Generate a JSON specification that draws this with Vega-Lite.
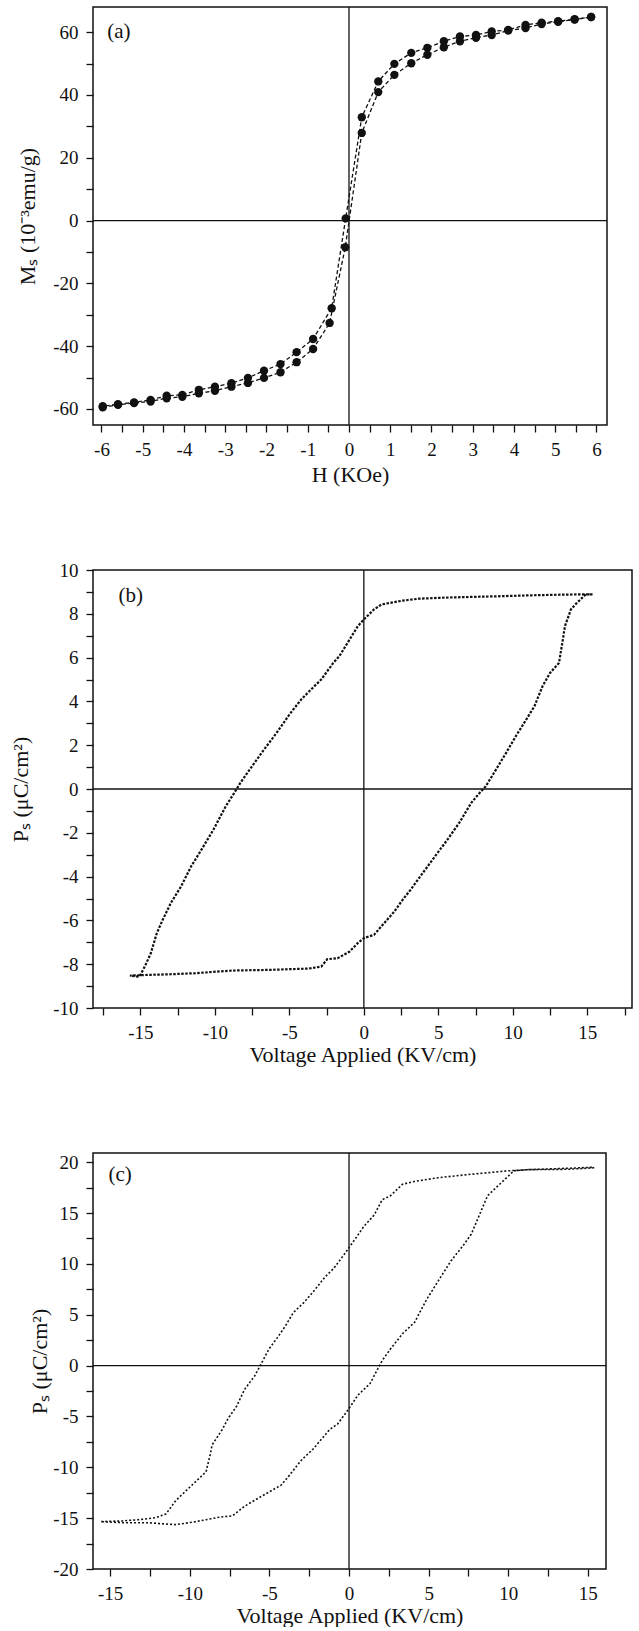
{
  "$schema": "https://vega.github.io/schema/vega-lite/v6.json",
  "padding": {"left": 8, "top": 5, "right": 0, "bottom": 0},
  "bounds": "flush",
  "spacing": 145,
  "background": "white",
  "config": {
    "view": {"stroke": "#111", "strokeWidth": 1.5},
    "font": "Liberation Serif",
    "axis": {
      "domain": false, "grid": false, "tickColor": "#111", "tickSize": 7, "tickWidth": 1.3, "tickCount": 100,
      "labelFont": "Liberation Serif", "labelFontSize": 19, "labelColor": "#111", "labelPadding": 8,
      "labelOverlap": false, "labelFlush": false,
      "titleFont": "Liberation Serif", "titleFontSize": 22, "titleFontWeight": "normal", "titleColor": "#111"
    }
  },
  "vconcat": [
    {
      "width": 514, "height": 418,
      "layer": [
        {
          "data": {"values": [{"H": 0}]},
          "mark": {"type": "rule", "color": "#111", "strokeWidth": 1.3},
          "encoding": {"x": {"field": "H", "type": "quantitative", "title": "H (KOe)", "scale": {"domain": [-6.206, 6.255], "nice": false, "zero": false}}}
        },
        {
          "data": {"values": [{"M": 0}]},
          "mark": {"type": "rule", "color": "#111", "strokeWidth": 1.3},
          "encoding": {"y": {"field": "M", "type": "quantitative", "title": "Mₛ (10⁻³emu/g)", "scale": {"domain": [-65.1, 68], "nice": false, "zero": false}}}
        },
        {
          "data": {"name": "ms"},
          "mark": {"type": "line", "color": "#111", "strokeWidth": 1.3, "strokeDash": [4, 2.5]},
          "encoding": {
            "x": {"field": "H", "type": "quantitative", "title": "H (KOe)", "scale": {"domain": [-6.206, 6.255], "nice": false, "zero": false},
              "axis": {"tickCount": 100, "values": [-6,-5.5,-5,-4.5,-4,-3.5,-3,-2.5,-2,-1.5,-1,-0.5,0,0.5,1,1.5,2,2.5,3,3.5,4,4.5,5,5.5,6], "labelExpr": "datum.value % 1 === 0 ? '' + datum.value : ''", "titlePadding": 5}},
            "y": {"field": "M", "type": "quantitative", "title": "Mₛ (10⁻³emu/g)", "scale": {"domain": [-65.1, 68], "nice": false, "zero": false},
              "axis": {"tickCount": 100, "values": [-60,-50,-40,-30,-20,-10,0,10,20,30,40,50,60], "labelExpr": "datum.value % 20 === 0 ? '' + datum.value : ''", "titlePadding": 13}},
            "detail": {"field": "branch"},
            "order": {"field": "i", "type": "quantitative"}
          }
        },
        {
          "data": {"name": "ms"},
          "mark": {"type": "point", "shape": "circle", "filled": true, "color": "#111", "opacity": 1, "size": 70},
          "encoding": {
            "x": {"field": "H", "type": "quantitative", "title": "H (KOe)", "scale": {"domain": [-6.206, 6.255], "nice": false, "zero": false}},
            "y": {"field": "M", "type": "quantitative", "title": "Mₛ (10⁻³emu/g)", "scale": {"domain": [-65.1, 68], "nice": false, "zero": false}}
          }
        },
        {
          "data": {"values": [{"H": -5.58, "M": 60, "label": "(a)"}]},
          "mark": {"type": "text", "font": "Liberation Serif", "fontSize": 21, "color": "#111"},
          "encoding": {
            "x": {"field": "H", "type": "quantitative", "title": "H (KOe)", "scale": {"domain": [-6.206, 6.255], "nice": false, "zero": false}},
            "y": {"field": "M", "type": "quantitative", "title": "Mₛ (10⁻³emu/g)", "scale": {"domain": [-65.1, 68], "nice": false, "zero": false}},
            "text": {"field": "label"}
          }
        }
      ]
    },
    {
      "width": 539, "height": 438,
      "layer": [
        {
          "data": {"values": [{"E": 0}]},
          "mark": {"type": "rule", "color": "#111", "strokeWidth": 1.3},
          "encoding": {"x": {"field": "E", "type": "quantitative", "title": "Voltage Applied (KV/cm)", "scale": {"domain": [-18.18, 18.0], "nice": false, "zero": false}}}
        },
        {
          "data": {"values": [{"P": 0}]},
          "mark": {"type": "rule", "color": "#111", "strokeWidth": 1.3},
          "encoding": {"y": {"field": "P", "type": "quantitative", "title": "Pₛ (μC/cm²)", "scale": {"domain": [-10, 10], "nice": false, "zero": false}}}
        },
        {
          "data": {"name": "pb"},
          "mark": {"type": "line", "color": "#111", "strokeWidth": 2.2, "strokeDash": [2.5, 1.5]},
          "encoding": {
            "x": {"field": "E", "type": "quantitative", "title": "Voltage Applied (KV/cm)", "scale": {"domain": [-18.18, 18.0], "nice": false, "zero": false},
              "axis": {"tickCount": 100, "values": [-17.5,-15,-12.5,-10,-7.5,-5,-2.5,0,2.5,5,7.5,10,12.5,15,17.5], "labelExpr": "datum.value % 5 === 0 ? '' + datum.value : ''", "titlePadding": 2}},
            "y": {"field": "P", "type": "quantitative", "title": "Pₛ (μC/cm²)", "scale": {"domain": [-10, 10], "nice": false, "zero": false},
              "axis": {"tickCount": 100, "values": [-10,-9,-8,-7,-6,-5,-4,-3,-2,-1,0,1,2,3,4,5,6,7,8,9,10], "labelExpr": "datum.value % 2 === 0 ? '' + datum.value : ''", "titlePadding": 20}},
            "order": {"field": "i", "type": "quantitative"}
          }
        },
        {
          "data": {"values": [{"E": -15.65, "P": 8.83, "label": "(b)"}]},
          "mark": {"type": "text", "font": "Liberation Serif", "fontSize": 21, "color": "#111"},
          "encoding": {
            "x": {"field": "E", "type": "quantitative", "title": "Voltage Applied (KV/cm)", "scale": {"domain": [-18.18, 18.0], "nice": false, "zero": false}},
            "y": {"field": "P", "type": "quantitative", "title": "Pₛ (μC/cm²)", "scale": {"domain": [-10, 10], "nice": false, "zero": false}},
            "text": {"field": "label"}
          }
        }
      ]
    },
    {
      "width": 513, "height": 416,
      "layer": [
        {
          "data": {"values": [{"E": 0}]},
          "mark": {"type": "rule", "color": "#111", "strokeWidth": 1.3},
          "encoding": {"x": {"field": "E", "type": "quantitative", "title": "Voltage Applied (KV/cm)", "scale": {"domain": [-16.08, 16.14], "nice": false, "zero": false}}}
        },
        {
          "data": {"values": [{"P": 0}]},
          "mark": {"type": "rule", "color": "#111", "strokeWidth": 1.3},
          "encoding": {"y": {"field": "P", "type": "quantitative", "title": "Pₛ (μC/cm²)", "scale": {"domain": [-20, 20.9], "nice": false, "zero": false}}}
        },
        {
          "data": {"name": "pc"},
          "mark": {"type": "line", "color": "#111", "strokeWidth": 1.6, "strokeDash": [2, 2]},
          "encoding": {
            "x": {"field": "E", "type": "quantitative", "title": "Voltage Applied (KV/cm)", "scale": {"domain": [-16.08, 16.14], "nice": false, "zero": false},
              "axis": {"tickCount": 100, "values": [-15,-12.5,-10,-7.5,-5,-2.5,0,2.5,5,7.5,10,12.5,15], "labelExpr": "datum.value % 5 === 0 ? '' + datum.value : ''", "titlePadding": 2}},
            "y": {"field": "P", "type": "quantitative", "title": "Pₛ (μC/cm²)", "scale": {"domain": [-20, 20.9], "nice": false, "zero": false},
              "axis": {"tickCount": 100, "values": [-20,-17.5,-15,-12.5,-10,-7.5,-5,-2.5,0,2.5,5,7.5,10,12.5,15,17.5,20], "labelExpr": "datum.value % 5 === 0 ? '' + datum.value : ''", "titlePadding": 1}},
            "order": {"field": "i", "type": "quantitative"}
          }
        },
        {
          "data": {"values": [{"E": -14.38, "P": 18.7, "label": "(c)"}]},
          "mark": {"type": "text", "font": "Liberation Serif", "fontSize": 21, "color": "#111"},
          "encoding": {
            "x": {"field": "E", "type": "quantitative", "title": "Voltage Applied (KV/cm)", "scale": {"domain": [-16.08, 16.14], "nice": false, "zero": false}},
            "y": {"field": "P", "type": "quantitative", "title": "Pₛ (μC/cm²)", "scale": {"domain": [-20, 20.9], "nice": false, "zero": false}},
            "text": {"field": "label"}
          }
        }
      ]
    }
  ],
  "datasets": {
    "ms": [
      {"branch": "down", "i": 0, "H": 5.87, "M": 64.8},
      {"branch": "down", "i": 1, "H": 5.47, "M": 64.1},
      {"branch": "down", "i": 2, "H": 5.07, "M": 63.5},
      {"branch": "down", "i": 3, "H": 4.67, "M": 63.0},
      {"branch": "down", "i": 4, "H": 4.28, "M": 62.3},
      {"branch": "down", "i": 5, "H": 3.86, "M": 60.7},
      {"branch": "down", "i": 6, "H": 3.46, "M": 60.2},
      {"branch": "down", "i": 7, "H": 3.08, "M": 59.1},
      {"branch": "down", "i": 8, "H": 2.69, "M": 58.6},
      {"branch": "down", "i": 9, "H": 2.30, "M": 57.1},
      {"branch": "down", "i": 10, "H": 1.90, "M": 55.0},
      {"branch": "down", "i": 11, "H": 1.51, "M": 53.4},
      {"branch": "down", "i": 12, "H": 1.10, "M": 49.9},
      {"branch": "down", "i": 13, "H": 0.71, "M": 44.3},
      {"branch": "down", "i": 14, "H": 0.31, "M": 32.9},
      {"branch": "down", "i": 15, "H": -0.08, "M": 0.7},
      {"branch": "down", "i": 16, "H": -0.42, "M": -27.9},
      {"branch": "down", "i": 17, "H": -0.87, "M": -37.7},
      {"branch": "down", "i": 18, "H": -1.27, "M": -41.9},
      {"branch": "down", "i": 19, "H": -1.66, "M": -45.7},
      {"branch": "down", "i": 20, "H": -2.06, "M": -47.8},
      {"branch": "down", "i": 21, "H": -2.45, "M": -50.1},
      {"branch": "down", "i": 22, "H": -2.85, "M": -51.8},
      {"branch": "down", "i": 23, "H": -3.25, "M": -52.9},
      {"branch": "down", "i": 24, "H": -3.64, "M": -53.9},
      {"branch": "down", "i": 25, "H": -4.04, "M": -55.5},
      {"branch": "down", "i": 26, "H": -4.42, "M": -55.8},
      {"branch": "down", "i": 27, "H": -4.81, "M": -57.1},
      {"branch": "down", "i": 28, "H": -5.21, "M": -57.9},
      {"branch": "down", "i": 29, "H": -5.60, "M": -58.5},
      {"branch": "down", "i": 30, "H": -5.97, "M": -59.1},
      {"branch": "up", "i": 0, "H": -5.97, "M": -59.5},
      {"branch": "up", "i": 1, "H": -5.60, "M": -58.7},
      {"branch": "up", "i": 2, "H": -5.21, "M": -58.1},
      {"branch": "up", "i": 3, "H": -4.81, "M": -57.6},
      {"branch": "up", "i": 4, "H": -4.42, "M": -56.6},
      {"branch": "up", "i": 5, "H": -4.04, "M": -56.1},
      {"branch": "up", "i": 6, "H": -3.64, "M": -55.0},
      {"branch": "up", "i": 7, "H": -3.25, "M": -54.2},
      {"branch": "up", "i": 8, "H": -2.85, "M": -52.9},
      {"branch": "up", "i": 9, "H": -2.45, "M": -51.7},
      {"branch": "up", "i": 10, "H": -2.06, "M": -50.1},
      {"branch": "up", "i": 11, "H": -1.66, "M": -48.3},
      {"branch": "up", "i": 12, "H": -1.27, "M": -45.1},
      {"branch": "up", "i": 13, "H": -0.87, "M": -40.9},
      {"branch": "up", "i": 14, "H": -0.47, "M": -32.6},
      {"branch": "up", "i": 15, "H": -0.09, "M": -8.5},
      {"branch": "up", "i": 16, "H": 0.31, "M": 27.9},
      {"branch": "up", "i": 17, "H": 0.71, "M": 40.9},
      {"branch": "up", "i": 18, "H": 1.10, "M": 46.4},
      {"branch": "up", "i": 19, "H": 1.51, "M": 50.1},
      {"branch": "up", "i": 20, "H": 1.90, "M": 52.8},
      {"branch": "up", "i": 21, "H": 2.30, "M": 55.2},
      {"branch": "up", "i": 22, "H": 2.69, "M": 57.1},
      {"branch": "up", "i": 23, "H": 3.08, "M": 58.2},
      {"branch": "up", "i": 24, "H": 3.46, "M": 59.1},
      {"branch": "up", "i": 25, "H": 3.86, "M": 60.5},
      {"branch": "up", "i": 26, "H": 4.28, "M": 61.3},
      {"branch": "up", "i": 27, "H": 4.67, "M": 62.6},
      {"branch": "up", "i": 28, "H": 5.07, "M": 63.3},
      {"branch": "up", "i": 29, "H": 5.47, "M": 64.0},
      {"branch": "up", "i": 30, "H": 5.87, "M": 64.8}
    ],
    "pb": [
      {"i": 0, "E": 15.35, "P": 8.89}, {"i": 1, "E": 14.9, "P": 8.89}, {"i": 2, "E": 13.0, "P": 8.87},
      {"i": 3, "E": 11.0, "P": 8.84}, {"i": 4, "E": 9.0, "P": 8.8}, {"i": 5, "E": 7.8, "P": 8.78},
      {"i": 6, "E": 5.5, "P": 8.74}, {"i": 7, "E": 3.7, "P": 8.69}, {"i": 8, "E": 2.6, "P": 8.6},
      {"i": 9, "E": 1.77, "P": 8.5}, {"i": 10, "E": 1.2, "P": 8.43}, {"i": 11, "E": 0.68, "P": 8.2},
      {"i": 12, "E": 0, "P": 7.74}, {"i": 13, "E": -0.4, "P": 7.44}, {"i": 14, "E": -0.95, "P": 6.83},
      {"i": 15, "E": -1.64, "P": 6.07}, {"i": 16, "E": -2.05, "P": 5.76}, {"i": 17, "E": -2.86, "P": 5.0},
      {"i": 18, "E": -3.55, "P": 4.54}, {"i": 19, "E": -4.2, "P": 4.09}, {"i": 20, "E": -5.0, "P": 3.4},
      {"i": 21, "E": -5.86, "P": 2.56}, {"i": 22, "E": -6.7, "P": 1.8}, {"i": 23, "E": -7.5, "P": 1.04},
      {"i": 24, "E": -8.3, "P": 0.27}, {"i": 25, "E": -8.7, "P": -0.18}, {"i": 26, "E": -9.27, "P": -0.79},
      {"i": 27, "E": -10.1, "P": -1.86}, {"i": 28, "E": -10.9, "P": -2.77}, {"i": 29, "E": -11.6, "P": -3.54},
      {"i": 30, "E": -12.27, "P": -4.45}, {"i": 31, "E": -12.95, "P": -5.2}, {"i": 32, "E": -13.5, "P": -5.97},
      {"i": 33, "E": -13.9, "P": -6.59}, {"i": 34, "E": -14.3, "P": -7.5}, {"i": 35, "E": -14.7, "P": -8.1},
      {"i": 36, "E": -15.0, "P": -8.49}, {"i": 37, "E": -15.1, "P": -8.57}, {"i": 38, "E": -15.7, "P": -8.52},
      {"i": 39, "E": -15.0, "P": -8.5}, {"i": 40, "E": -13.0, "P": -8.46}, {"i": 41, "E": -11.3, "P": -8.41},
      {"i": 42, "E": -8.86, "P": -8.29}, {"i": 43, "E": -6.4, "P": -8.26}, {"i": 44, "E": -3.7, "P": -8.2},
      {"i": 45, "E": -2.86, "P": -8.11}, {"i": 46, "E": -2.45, "P": -7.77}, {"i": 47, "E": -1.77, "P": -7.73},
      {"i": 48, "E": -0.95, "P": -7.42}, {"i": 49, "E": -0.41, "P": -7.04}, {"i": 50, "E": 0, "P": -6.81},
      {"i": 51, "E": 0.68, "P": -6.66}, {"i": 52, "E": 1.36, "P": -6.13}, {"i": 53, "E": 2.05, "P": -5.59},
      {"i": 54, "E": 2.6, "P": -5.06}, {"i": 55, "E": 3.14, "P": -4.6}, {"i": 56, "E": 3.95, "P": -3.84},
      {"i": 57, "E": 4.77, "P": -3.08}, {"i": 58, "E": 5.6, "P": -2.32}, {"i": 59, "E": 6.4, "P": -1.55},
      {"i": 60, "E": 7.2, "P": -0.64}, {"i": 61, "E": 7.77, "P": -0.18}, {"i": 62, "E": 8.18, "P": 0.12},
      {"i": 63, "E": 8.73, "P": 0.73}, {"i": 64, "E": 9.55, "P": 1.65}, {"i": 65, "E": 10.2, "P": 2.41},
      {"i": 66, "E": 10.9, "P": 3.17}, {"i": 67, "E": 11.45, "P": 3.78}, {"i": 68, "E": 12.0, "P": 4.7},
      {"i": 69, "E": 12.5, "P": 5.3}, {"i": 70, "E": 13.1, "P": 5.76}, {"i": 71, "E": 13.36, "P": 6.83},
      {"i": 72, "E": 13.5, "P": 7.44}, {"i": 73, "E": 13.9, "P": 8.2}, {"i": 74, "E": 14.3, "P": 8.5},
      {"i": 75, "E": 14.9, "P": 8.89}, {"i": 76, "E": 15.35, "P": 8.89}
    ],
    "pc": [
      {"i": 0, "E": 15.4, "P": 19.45}, {"i": 1, "E": 13.8, "P": 19.3}, {"i": 2, "E": 11.2, "P": 19.26},
      {"i": 3, "E": 10.0, "P": 19.15}, {"i": 4, "E": 7.4, "P": 18.77}, {"i": 5, "E": 5.6, "P": 18.47},
      {"i": 6, "E": 4.1, "P": 18.1}, {"i": 7, "E": 3.36, "P": 17.83}, {"i": 8, "E": 2.6, "P": 16.7},
      {"i": 9, "E": 2.08, "P": 16.3}, {"i": 10, "E": 1.58, "P": 14.8}, {"i": 11, "E": 0.94, "P": 13.7},
      {"i": 12, "E": 0.43, "P": 12.55}, {"i": 13, "E": 0, "P": 11.6}, {"i": 14, "E": -0.33, "P": 10.86},
      {"i": 15, "E": -0.97, "P": 9.54}, {"i": 16, "E": -1.47, "P": 8.78}, {"i": 17, "E": -2.24, "P": 7.27},
      {"i": 18, "E": -2.87, "P": 6.14}, {"i": 19, "E": -3.5, "P": 5.2}, {"i": 20, "E": -4.0, "P": 3.88},
      {"i": 21, "E": -4.5, "P": 2.75}, {"i": 22, "E": -5.03, "P": 1.62}, {"i": 23, "E": -5.54, "P": 0.11},
      {"i": 24, "E": -5.92, "P": -1.0}, {"i": 25, "E": -6.56, "P": -2.34}, {"i": 26, "E": -7.07, "P": -4.03},
      {"i": 27, "E": -7.58, "P": -5.16}, {"i": 28, "E": -7.96, "P": -6.29}, {"i": 29, "E": -8.6, "P": -7.8},
      {"i": 30, "E": -8.72, "P": -8.74}, {"i": 31, "E": -8.98, "P": -10.44}, {"i": 32, "E": -9.61, "P": -11.38},
      {"i": 33, "E": -10.25, "P": -12.33}, {"i": 34, "E": -10.88, "P": -13.27}, {"i": 35, "E": -11.5, "P": -14.59},
      {"i": 36, "E": -12.15, "P": -14.96}, {"i": 37, "E": -13.2, "P": -15.15}, {"i": 38, "E": -14.2, "P": -15.27},
      {"i": 39, "E": -15.6, "P": -15.34}, {"i": 40, "E": -14.2, "P": -15.45}, {"i": 41, "E": -12.66, "P": -15.45},
      {"i": 42, "E": -10.88, "P": -15.64}, {"i": 43, "E": -9.61, "P": -15.34}, {"i": 44, "E": -8.09, "P": -14.89},
      {"i": 45, "E": -7.32, "P": -14.78}, {"i": 46, "E": -6.56, "P": -13.83}, {"i": 47, "E": -5.54, "P": -12.89},
      {"i": 48, "E": -4.27, "P": -11.76}, {"i": 49, "E": -3.76, "P": -10.82}, {"i": 50, "E": -3.0, "P": -9.31},
      {"i": 51, "E": -2.24, "P": -8.18}, {"i": 52, "E": -1.22, "P": -6.29}, {"i": 53, "E": -0.71, "P": -5.73},
      {"i": 54, "E": 0, "P": -4.22}, {"i": 55, "E": 0.56, "P": -2.9}, {"i": 56, "E": 1.32, "P": -1.77},
      {"i": 57, "E": 2.08, "P": 0.49}, {"i": 58, "E": 2.6, "P": 1.62}, {"i": 59, "E": 3.36, "P": 3.13},
      {"i": 60, "E": 4.12, "P": 4.26}, {"i": 61, "E": 4.88, "P": 6.52}, {"i": 62, "E": 5.64, "P": 8.41},
      {"i": 63, "E": 6.4, "P": 10.29}, {"i": 64, "E": 7.17, "P": 11.8}, {"i": 65, "E": 7.68, "P": 12.93},
      {"i": 66, "E": 8.19, "P": 14.81}, {"i": 67, "E": 8.7, "P": 16.7}, {"i": 68, "E": 9.46, "P": 17.83},
      {"i": 69, "E": 9.97, "P": 18.58}, {"i": 70, "E": 10.35, "P": 19.15}, {"i": 71, "E": 11.2, "P": 19.26},
      {"i": 72, "E": 13.8, "P": 19.4}, {"i": 73, "E": 15.4, "P": 19.5}
    ]
  }
}
